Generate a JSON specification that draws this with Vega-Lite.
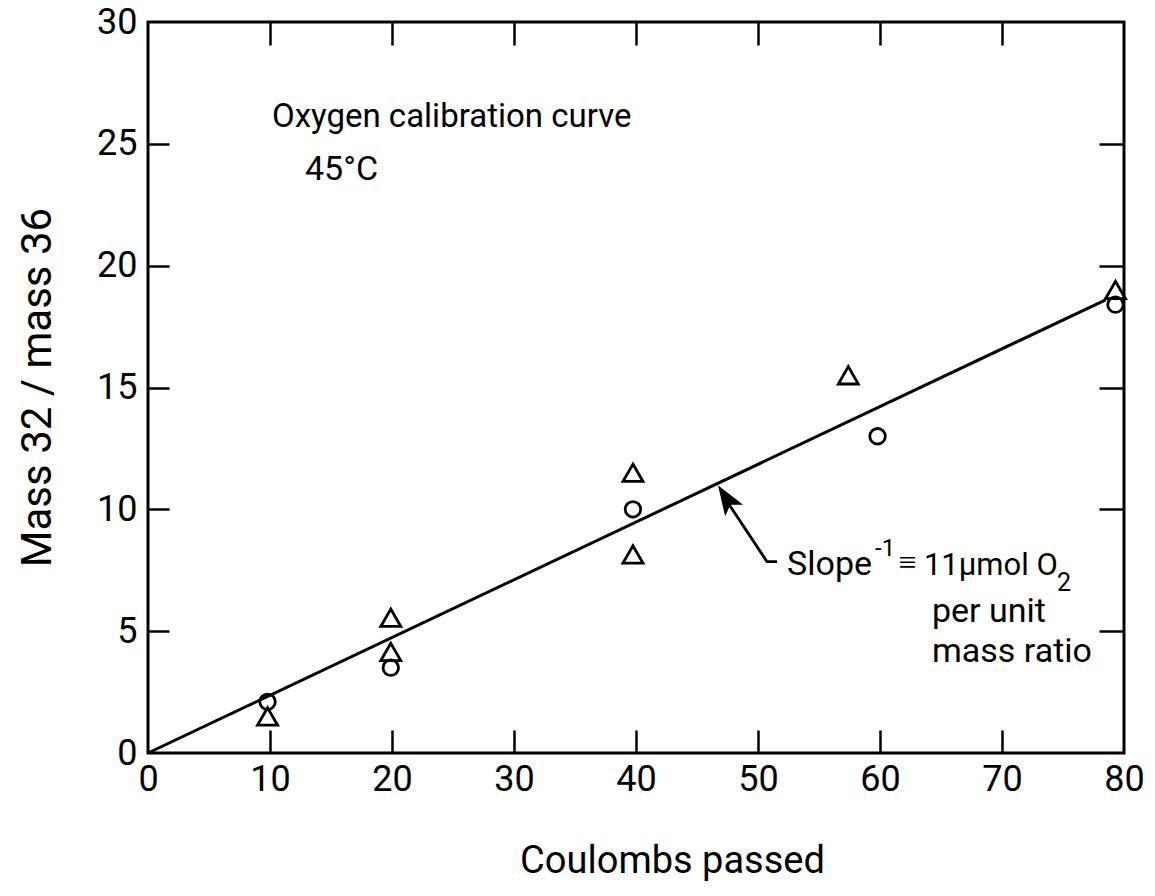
{
  "$schema": "https://vega.github.io/schema/vega-lite/v6.json",
  "width": 976,
  "height": 731,
  "autosize": "none",
  "padding": {"left": 148, "top": 22, "right": 31, "bottom": 143},
  "background": "white",
  "config": {
    "view": {"stroke": "black", "strokeWidth": 3},
    "font": "Roboto",
    "text": {"font": "Roboto", "color": "black"},
    "axis": {"grid": false, "domain": false, "tickColor": "black", "tickWidth": 2.5, "labelColor": "black", "titleColor": "black", "labelFlush": false, "labelOverlap": false, "labelFont": "Roboto", "titleFont": "Roboto"}
  },
  "resolve": {"axis": {"x": "independent", "y": "independent"}},
  "layer": [
    {
      "data": {"values": [{"coulombs": 0, "ratio": 0}, {"coulombs": 78.5, "ratio": 18.6}]},
      "mark": {"type": "line", "color": "black", "strokeWidth": 3},
      "encoding": {
        "x": {"field": "coulombs", "type": "quantitative", "scale": {"domain": [0, 80], "nice": false, "zero": false},
          "axis": {"orient": "bottom", "values": [0, 10, 20, 30, 40, 50, 60, 70, 80], "ticks": false, "labelPadding": 9, "labelFontSize": 36,
            "title": "Coulombs passed", "titleFontSize": 38, "titleFontWeight": "normal", "titleX": 524, "titleY": 119, "titleBaseline": "alphabetic", "titleAnchor": "middle", "titleAlign": "center"}},
        "y": {"field": "ratio", "type": "quantitative", "scale": {"domain": [0, 30], "nice": false, "zero": false},
          "axis": {"orient": "left", "values": [0, 5, 10, 15, 20, 25, 30], "ticks": false, "labelPadding": 11, "labelFontSize": 36,
            "title": "Mass 32 / mass 36", "titleFontSize": 42, "titleFontWeight": "normal", "titleX": -98, "titleY": 365, "titleBaseline": "alphabetic", "titleAngle": 270, "titleAlign": "center"}}
      }
    },
    {
      "data": {"values": [
        {"coulombs": 9.8, "ratio": 2.1, "symbol": "circle"},
        {"coulombs": 19.9, "ratio": 3.5, "symbol": "circle"},
        {"coulombs": 39.75, "ratio": 10.0, "symbol": "circle"},
        {"coulombs": 59.8, "ratio": 13.0, "symbol": "circle"},
        {"coulombs": 79.3, "ratio": 18.4, "symbol": "circle"},
        {"coulombs": 9.8, "ratio": 1.5, "symbol": "triangle"},
        {"coulombs": 19.9, "ratio": 4.15, "symbol": "triangle"},
        {"coulombs": 19.9, "ratio": 5.55, "symbol": "triangle"},
        {"coulombs": 39.75, "ratio": 11.5, "symbol": "triangle"},
        {"coulombs": 39.75, "ratio": 8.15, "symbol": "triangle"},
        {"coulombs": 57.4, "ratio": 15.5, "symbol": "triangle"},
        {"coulombs": 79.3, "ratio": 19.0, "symbol": "triangle"}
      ]},
      "mark": {"type": "point", "filled": false, "stroke": "black", "strokeWidth": 2.8, "opacity": 1},
      "encoding": {
        "x": {"field": "coulombs", "type": "quantitative", "scale": {"domain": [0, 80], "nice": false, "zero": false},
          "axis": {"orient": "top", "values": [10, 20, 30, 40, 50, 60, 70], "labels": false, "title": null, "offset": -23, "tickSize": 23}},
        "y": {"field": "ratio", "type": "quantitative", "scale": {"domain": [0, 30], "nice": false, "zero": false},
          "axis": {"orient": "right", "values": [5, 10, 15, 20, 25], "labels": false, "title": null, "offset": -25, "tickSize": 25}},
        "shape": {"field": "symbol", "type": "nominal", "scale": {"domain": ["circle", "triangle"], "range": ["circle", "triangle-up"]}, "legend": null},
        "size": {"field": "symbol", "type": "nominal", "scale": {"domain": ["circle", "triangle"], "range": [240, 400]}, "legend": null}
      }
    },
    {
      "data": {"values": [
        {"coulombs": 47.1, "ratio": 10.6, "step": 1},
        {"coulombs": 50.74, "ratio": 7.85, "step": 2},
        {"coulombs": 51.56, "ratio": 7.85, "step": 3}
      ]},
      "mark": {"type": "line", "color": "black", "strokeWidth": 2.8},
      "encoding": {
        "x": {"field": "coulombs", "type": "quantitative", "scale": {"domain": [0, 80], "nice": false, "zero": false},
          "axis": {"orient": "bottom", "values": [10, 20, 30, 40, 50, 60, 70], "labels": false, "title": null, "offset": -23, "tickSize": 23}},
        "y": {"field": "ratio", "type": "quantitative", "scale": {"domain": [0, 30], "nice": false, "zero": false},
          "axis": {"orient": "left", "values": [5, 10, 15, 20, 25], "labels": false, "title": null, "offset": -21, "tickSize": 21}},
        "order": {"field": "step", "type": "quantitative"}
      }
    },
    {
      "data": {"values": [{}]},
      "mark": {"type": "point", "shape": "M0,0 L0.55,1.55 L0,1.2 L-0.55,1.55 Z", "filled": true, "color": "black", "size": 1500, "angle": 327.5, "opacity": 1},
      "encoding": {
        "x": {"datum": 46.72, "type": "quantitative", "axis": null},
        "y": {"datum": 10.99, "type": "quantitative", "axis": null}
      }
    },
    {
      "data": {"values": [{}]},
      "mark": {"type": "text", "text": "Oxygen calibration curve", "fontSize": 33, "align": "left", "baseline": "alphabetic"},
      "encoding": {"x": {"datum": 10.16, "type": "quantitative", "axis": null}, "y": {"datum": 25.69, "type": "quantitative", "axis": null}}
    },
    {
      "data": {"values": [{}]},
      "mark": {"type": "text", "text": "45°C", "fontSize": 34, "align": "left", "baseline": "alphabetic"},
      "encoding": {"x": {"datum": 12.87, "type": "quantitative", "axis": null}, "y": {"datum": 23.52, "type": "quantitative", "axis": null}}
    },
    {
      "data": {"values": [{}]},
      "mark": {"type": "text", "text": "Slope", "fontSize": 34, "align": "left", "baseline": "alphabetic"},
      "encoding": {"x": {"datum": 52.38, "type": "quantitative", "axis": null}, "y": {"datum": 7.3, "type": "quantitative", "axis": null}}
    },
    {
      "data": {"values": [{}]},
      "mark": {"type": "text", "text": "-1", "fontSize": 24, "align": "left", "baseline": "alphabetic"},
      "encoding": {"x": {"datum": 59.6, "type": "quantitative", "axis": null}, "y": {"datum": 8.08, "type": "quantitative", "axis": null}}
    },
    {
      "data": {"values": [{}]},
      "mark": {"type": "text", "text": "≡", "fontSize": 32, "align": "left", "baseline": "alphabetic"},
      "encoding": {"x": {"datum": 61.5, "type": "quantitative", "axis": null}, "y": {"datum": 7.4, "type": "quantitative", "axis": null}}
    },
    {
      "data": {"values": [{}]},
      "mark": {"type": "text", "text": "11μmol O", "fontSize": 31, "align": "left", "baseline": "alphabetic"},
      "encoding": {"x": {"datum": 63.6, "type": "quantitative", "axis": null}, "y": {"datum": 7.3, "type": "quantitative", "axis": null}}
    },
    {
      "data": {"values": [{}]},
      "mark": {"type": "text", "text": "2", "fontSize": 25, "align": "left", "baseline": "alphabetic"},
      "encoding": {"x": {"datum": 74.5, "type": "quantitative", "axis": null}, "y": {"datum": 6.65, "type": "quantitative", "axis": null}}
    },
    {
      "data": {"values": [{}]},
      "mark": {"type": "text", "text": "per unit", "fontSize": 34, "align": "left", "baseline": "alphabetic"},
      "encoding": {"x": {"datum": 64.26, "type": "quantitative", "axis": null}, "y": {"datum": 5.38, "type": "quantitative", "axis": null}}
    },
    {
      "data": {"values": [{}]},
      "mark": {"type": "text", "text": "mass ratio", "fontSize": 34, "align": "left", "baseline": "alphabetic"},
      "encoding": {"x": {"datum": 64.26, "type": "quantitative", "axis": null}, "y": {"datum": 3.73, "type": "quantitative", "axis": null}}
    }
  ]
}
